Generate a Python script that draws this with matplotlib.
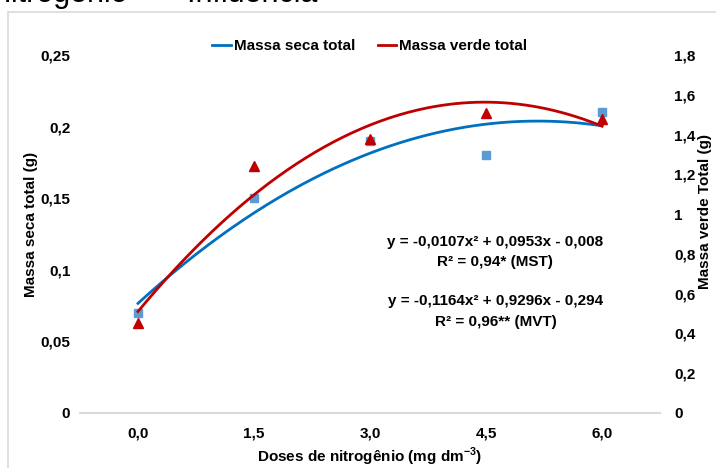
import numpy as np
import matplotlib
matplotlib.use("Agg")
import matplotlib.pyplot as plt
from matplotlib.ticker import FuncFormatter
from matplotlib.patches import Rectangle

plt.rcParams['font.family'] = ['Liberation Sans', 'DejaVu Sans']
plt.rcParams['mathtext.fontset'] = 'custom'
plt.rcParams['mathtext.rm'] = 'Liberation Sans'
plt.rcParams['mathtext.bf'] = 'Liberation Sans:bold'

# data
doses = ['0,0', '1,5', '3,0', '4,5', '6,0']
mst = [0.07, 0.15, 0.19, 0.18, 0.21]      # massa seca total (g), left axis
mvt = [0.45, 1.24, 1.38, 1.51, 1.48]      # massa verde total (g), right axis
eq_mst = ['y = -0,0107x² + 0,0953x - 0,008', 'R² = 0,94* (MST)']
eq_mvt = ['y = -0,1164x² + 0,9296x - 0,294', 'R² = 0,96** (MVT)']

W, H = 716, 468
FS = 11
fig = plt.figure(figsize=(W / 100, H / 100), dpi=100)

# chart area border + cut-off heading above it
fig.patches.append(Rectangle((8 / W, -0.1), 1.2, (H - 12) / H + 0.1, transform=fig.transFigure,
                             fill=False, edgecolor='#D9D9D9', linewidth=1.2))
fig.text(-6 / W, 1 - 2 / H, 'nitrogênio       Influência', fontsize=22, va='baseline', ha='left')

ax = fig.add_axes([80 / W, 1 - 413 / H, 580 / W, 358 / H])
ax2 = ax.twinx()

idx = np.arange(len(doses))
xs = np.linspace(0, len(doses) - 1, 200)

# polynomial trendlines (Excel style, x = 1..n)
c1 = np.polyfit(idx + 1, mst, 2)
c2 = np.polyfit(idx + 1, mvt, 2)

l1, = ax.plot(xs, np.polyval(c1, xs + 1), color='#0070C0', lw=2, zorder=2)
ax.plot(idx, mst, linestyle='none', marker='s', ms=6, color='#5B9BD5', zorder=3)
l2, = ax2.plot(xs, np.polyval(c2, xs + 1), color='#C00000', lw=2, zorder=2)
ax2.plot(idx, mvt, linestyle='none', marker='^', ms=6.5, color='#C00000', zorder=3)

fmt = FuncFormatter(lambda v, p: ('%g' % round(v, 4)).replace('.', ','))
ax.set_xlim(-0.5, len(doses) - 0.5)
ax.set_ylim(0, 0.25)
ax.set_yticks(np.arange(0, 0.251, 0.05))
ax.yaxis.set_major_formatter(fmt)
ax2.set_ylim(0, 1.8)
ax2.set_yticks(np.arange(0, 1.81, 0.2))
ax2.yaxis.set_major_formatter(fmt)
ax.set_xticks(idx)
ax.set_xticklabels(doses)

for a in (ax, ax2):
    for s in a.spines.values():
        s.set_visible(False)
    a.tick_params(length=0, labelsize=FS)
    for t in a.get_xticklabels() + a.get_yticklabels():
        t.set_fontweight('bold')
ax.spines['bottom'].set_visible(True)
ax.spines['bottom'].set_color('#D9D9D9')
ax.spines['bottom'].set_linewidth(1.5)
ax.tick_params(axis='y', pad=7)
ax.tick_params(axis='x', pad=10)
ax2.tick_params(axis='y', pad=10)

ax.set_ylabel('Massa seca total (g)', fontsize=FS, fontweight='bold')
ax.yaxis.set_label_coords(-0.072, 0.528)
ax2.set_ylabel('Massa verde Total (g)', fontsize=FS, fontweight='bold')
ax2.yaxis.set_label_coords(1.066, 0.564)
ax.set_xlabel(r'Doses de nitrogênio (mg dm$^{\mathbf{-3}}$)', fontsize=FS, fontweight='bold')
ax.xaxis.set_label_coords(0.5, -0.09)

fig.legend([l1, l2], ['Massa seca total', 'Massa verde total'], loc='center',
           bbox_to_anchor=(370 / W, 1 - 46 / H), ncol=2, frameon=False,
           handlelength=1.2, handletextpad=0.2, columnspacing=1.5,
           prop={'size': FS, 'weight': 'bold'})

for y, s in zip([242, 262], eq_mst):
    fig.text(495 / W, 1 - y / H, s, fontsize=FS, fontweight='bold', ha='center', va='center')
for y, s in zip([301, 322], eq_mvt):
    fig.text(496 / W, 1 - y / H, s, fontsize=FS, fontweight='bold', ha='center', va='center')

fig.savefig('out.png', dpi=100)
